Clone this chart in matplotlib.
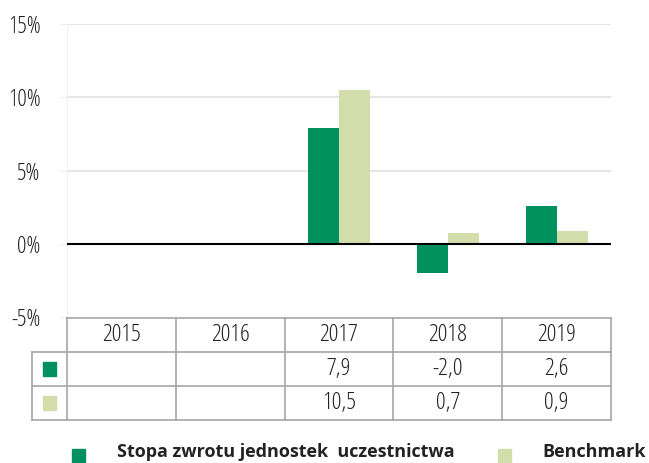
import matplotlib
matplotlib.use("Agg")
import matplotlib.pyplot as plt
from matplotlib.patches import Rectangle

plt.rcParams["font.family"] = ["Open Sans", "DejaVu Sans"]
plt.rcParams["font.stretch"] = "condensed"

# data
years = ["2015", "2016", "2017", "2018", "2019"]
fund = [None, None, 7.9, -2.0, 2.6]
bench = [None, None, 10.5, 0.7, 0.9]
fund_labels = ["", "", "7,9", "-2,0", "2,6"]
bench_labels = ["", "", "10,5", "0,7", "0,9"]
series_names = ["Stopa zwrotu jednostek  uczestnictwa", "Benchmark"]
yticks = [-5, 0, 5, 10, 15]

GREEN = "#00915f"
LIGHT = "#d3dcab"
GRID = "#e6e6e6"
TLINE = "#a6a6a6"
TXT = "#222222"

W, H = 649, 463
fig = plt.figure(figsize=(W / 100, H / 100), dpi=100)


def fx(px):
    return px / W


def fy(py):
    return 1 - py / H


# main chart
ax = fig.add_axes([fx(67), fy(317), fx(611) - fx(67), fy(24) - fy(317)])
x = list(range(len(years)))
bw = 0.285
for i in x:
    if fund[i] is not None:
        ax.bar(i - bw / 2, fund[i], bw, color=GREEN, zorder=3)
    if bench[i] is not None:
        ax.bar(i + bw / 2, bench[i], bw, color=LIGHT, zorder=3)
ax.set_xlim(-0.5, len(years) - 0.5)
ax.set_ylim(-5, 15)
ax.set_yticks(yticks)
ax.set_yticklabels([f"{v}%" for v in yticks], fontsize=17, color=TXT)
ax.set_xticks([])
for v in yticks[2:]:
    ax.axhline(v, color=GRID, lw=1.5, zorder=1)
ax.axhline(0, color="black", lw=1.5, zorder=4)
for s in ["top", "right", "bottom"]:
    ax.spines[s].set_visible(False)
ax.spines["left"].set_color("#f1f1ea")
ax.tick_params(axis="y", length=5, color="#ececec", pad=14)

# data table under the chart
unit = 544 / len(years)
left_px = 32
tax = fig.add_axes([fx(left_px), fy(420), fx(611) - fx(left_px), fy(318) - fy(420)])
x0 = -0.5 - (67 - left_px) / unit
tax.set_xlim(x0, len(years) - 0.5)
tax.set_ylim(3, 0)
tax.axis("off")
lk = dict(color=TLINE, lw=1.2, clip_on=False)
# horizontal lines
tax.plot([-0.5, len(years) - 0.5], [0, 0], **lk)
tax.plot([x0, len(years) - 0.5], [1, 1], **lk)
tax.plot([x0, len(years) - 0.5], [2, 2], **lk)
tax.plot([x0, len(years) - 0.5], [3, 3], **lk)
# vertical lines
tax.plot([x0, x0], [1, 3], **lk)
for b in range(len(years) + 1):
    tax.plot([b - 0.5, b - 0.5], [0, 3], **lk)

for i, yr in enumerate(years):
    tax.text(i, 0.5, yr, ha="center", va="center", fontsize=17.5, color=TXT)
    tax.text(i, 1.5, fund_labels[i], ha="center", va="center", fontsize=17.5, color=TXT)
    tax.text(i, 2.5, bench_labels[i], ha="center", va="center", fontsize=17.5, color=TXT)

# legend keys inside the table
sq_w = 13 / unit
sq_h = 14 / 34
cx = (x0 - 0.5) / 2
tax.add_patch(Rectangle((cx - sq_w / 2, 1.5 - sq_h / 2), sq_w, sq_h, color=GREEN, clip_on=False))
tax.add_patch(Rectangle((cx - sq_w / 2, 2.5 - sq_h / 2), sq_w, sq_h, color=LIGHT, clip_on=False))

# legend
fig.patches.append(Rectangle((fx(72), fy(462)), fx(13), 13 / H, color=GREEN, transform=fig.transFigure))
fig.text(fx(117), fy(452), series_names[0], fontsize=13, fontweight="bold",
         va="center", ha="left", color=TXT)
fig.patches.append(Rectangle((fx(498), fy(462)), fx(13), 13 / H, color=LIGHT, transform=fig.transFigure))
fig.text(fx(542), fy(452), series_names[1], fontsize=13, fontweight="bold",
         va="center", ha="left", color=TXT)

fig.savefig("out.png", dpi=100)
